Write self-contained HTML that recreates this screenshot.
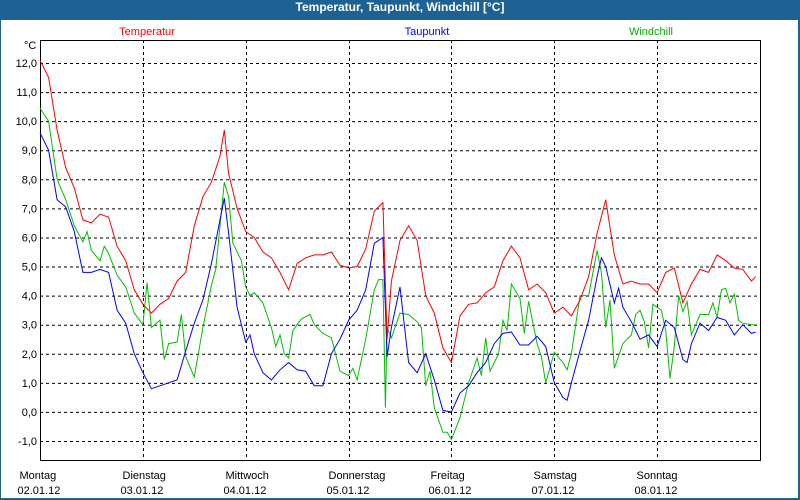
<!DOCTYPE html>
<html><head><meta charset="utf-8"><style>
body{margin:0;background:#fff;}
#wrap{position:relative;width:800px;height:500px;overflow:hidden;background:#1e6193;}
#inner{position:absolute;left:1px;top:20px;width:797px;height:478px;background:#fff;}
#title{position:absolute;left:0;top:0;width:800px;height:20px;line-height:20px;text-align:center;color:#fff;font:bold 12px "Liberation Sans",sans-serif;}
svg{position:absolute;left:0;top:0;}
text{font-family:"Liberation Sans",sans-serif;font-size:11px;}
</style></head><body>
<div id="wrap">
<div id="title">Temperatur, Taupunkt, Windchill [°C]</div>
<div id="inner"></div>
<svg id="chart" width="800" height="500"></svg>
</div>
<script>
const dayNames=["Montag","Dienstag","Mittwoch","Donnerstag","Freitag","Samstag","Sonntag"];
const dayDates=["02.01.12","03.01.12","04.01.12","05.01.12","06.01.12","07.01.12","08.01.12"];
const yTicks=[12,11,10,9,8,7,6,5,4,3,2,1,0,-1];
const tempHours=[0,2,4,6,8,10,12,14,16,18,20,22,24,26,28,30,32,34,36,38,40,42,43,44,46,48,50,52,54,56,58,60,62,64,66,68,70,72,74,76,78,80,81,82,84,86,88,90,92,94,96,98,100,102,104,106,108,110,112,114,116,118,120,122,124,126,128,130,132,134,136,138,140,142,144,146,148,150,152,154,156,158,160,162,164,166,167];
const tempValues=[12.1,11.5,9.7,8.4,7.7,6.6,6.5,6.8,6.7,5.7,5.2,4.2,3.7,3.4,3.7,3.9,4.5,4.8,6.4,7.4,7.9,8.8,9.7,8.2,7.0,6.2,6.0,5.5,5.3,4.8,4.2,5.1,5.3,5.4,5.4,5.5,5.05,4.95,5.0,5.6,6.9,7.2,2.5,4.5,5.9,6.4,5.9,4.0,3.4,2.2,1.7,3.3,3.7,3.75,4.1,4.3,5.2,5.7,5.3,4.2,4.4,4.1,3.4,3.6,3.3,3.85,4.65,6.15,7.3,5.4,4.4,4.5,4.4,4.4,4.1,4.8,4.95,3.75,4.4,4.9,4.8,5.4,5.2,4.95,4.9,4.5,4.65];
const dewHours=[0,2,4,6,8,10,12,14,16,18,20,22,24,26,28,30,32,34,36,38,40,42,43,44,46,48,49,50,52,54,56,58,60,62,64,66,68,70,72,74,76,78,80,81,82,84,86,88,90,92,94,96,98,100,102,104,106,108,110,112,114,116,118,120,122,123,124,126,128,130,131,132,134,135,136,138,140,142,144,146,148,150,151,152,154,156,158,160,162,164,166,167];
const dewValues=[9.6,9.0,7.3,7.05,6.2,4.8,4.8,4.9,4.8,3.5,3.05,2.0,1.35,0.8,0.9,1.0,1.1,2.1,3.05,3.85,5.1,6.6,7.35,6.15,3.6,2.4,2.65,2.0,1.35,1.1,1.45,1.7,1.45,1.4,0.9,0.9,2.0,2.5,3.15,3.5,4.2,5.8,6.0,1.9,2.9,4.3,1.7,1.35,2.0,1.1,0.05,0.0,0.65,0.9,1.35,1.7,2.35,2.7,2.75,2.3,2.3,2.6,2.25,1.0,0.5,0.4,1.0,2.1,3.15,4.65,5.3,5.0,3.75,4.25,3.6,3.1,2.5,2.65,2.25,3.15,2.9,1.8,1.7,2.35,3.05,2.8,3.25,3.15,2.65,3.0,2.7,2.75];
const chillHours=[0,2,4,6,8,10,11,12,14,15,16,18,20,22,24,25,26,28,29,30,32,33,34,36,38,40,41,42,43,44,45,47,48,49,50,52,54,55,56,57,58,59,61,63,64,66,68,70,72,73,74,76,78,79,80,80.6,81,82,84,86,88,89,90,91,92,94,95,96,98,100,102,103,104,105,107,108,109,110,112,113,114,116,117,118,120,122,123,124,126,128,130,131,132,133,134,136,138,139,140,141,142,143,145,146,147,148,149,150,151,152,154,156,157,158,159,160,161,162,163,164,166,167];
const chillValues=[10.45,10.0,8.0,7.3,6.4,5.85,6.2,5.55,5.2,5.7,5.45,4.7,4.3,3.4,3.0,4.45,2.9,3.15,1.8,2.35,2.4,3.35,1.9,1.2,2.9,4.35,4.9,6.4,7.9,7.4,5.8,5.2,4.3,4.0,4.1,3.75,2.9,2.25,2.65,2.0,1.85,2.8,3.2,3.35,3.0,2.7,2.55,1.4,1.25,1.5,1.1,2.5,4.2,4.55,4.55,0.15,2.9,2.55,3.4,3.35,3.1,2.9,0.9,1.4,0.15,-0.7,-0.7,-0.95,-0.2,1.0,1.85,1.25,2.55,1.4,2.0,3.15,2.8,4.4,3.9,2.7,3.8,2.35,1.9,1.0,2.05,1.7,1.45,2.0,4.0,4.0,5.55,4.8,2.9,3.85,1.5,2.35,2.65,3.35,3.5,3.1,2.2,3.7,3.5,2.8,1.15,2.25,4.0,3.45,3.8,2.65,3.35,3.35,3.75,3.25,4.2,4.25,3.75,4.05,3.15,3.05,3.0,3.0];

const L=40,R=760,T=40,B=460,HOURS=168;
const yTop=12,yBot=-1,pyTop=63,pyBot=441;
function xs(h){return L+h*(R-L)/HOURS;}
function ys(v){return pyTop+(yTop-v)*(pyBot-pyTop)/(yTop-yBot);}
const NS="http://www.w3.org/2000/svg";
const svg=document.getElementById('chart');
function mk(tag,attrs){const e=document.createElementNS(NS,tag);for(const k in attrs)e.setAttribute(k,attrs[k]);svg.appendChild(e);return e;}

yTicks.forEach(v=>{
  const g=mk('line',{x1:L,x2:R,y1:ys(v)+0.5,y2:ys(v)+0.5,stroke:'#000','stroke-dasharray':'3,3','stroke-width':1});
  
  
  const t=mk('text',{x:37,y:ys(v)+4,'text-anchor':'end',fill:'#000'});
  t.textContent=v.toFixed(1).replace('.',',');
  
  
});
dayNames.forEach((d,i)=>{
  const x=Math.round(xs(i*24))+0.5;
  if(i>0){
    const g=mk('line',{x1:x,x2:x,y1:T,y2:B,stroke:'#000','stroke-dasharray':'3,3','stroke-width':1});
    
    
  }
  const t1=mk('text',{x:x-21,y:479,fill:'#000'});
  t1.textContent=d;
  
  
  const t2=mk('text',{x:x-23,y:494,fill:'#000'});
  t2.textContent=dayDates[i];
  
  
});
const ax=mk('path',{d:`M${L+0.5},${T} V${B+0.5} H${R+0.5} V${T+0.5} H${L}`,fill:'none',stroke:'#000','stroke-width':1});


const unit=mk('text',{x:24,y:49,fill:'#000'});unit.textContent='°C';



function series(hours,vals,color,name){
  const d=hours.map((h,i)=>(i?'L':'M')+xs(h).toFixed(1)+','+ys(vals[i]).toFixed(1)).join(' ');
  const p=mk('path',{d:d,fill:'none',stroke:color,'stroke-width':1});
  
  
}
series(chillHours,chillValues,'#00c000','windchill-line');
series(dewHours,dewValues,'#0000ff','taupunkt-line');
series(tempHours,tempValues,'#ff0000','temperatur-line');

[['Temperatur','#ff0000',147],['Taupunkt','#0000ff',427],['Windchill','#00b000',651]].forEach(l=>{
  const t=mk('text',{x:l[2],y:35,'text-anchor':'middle',fill:l[1]});
  t.textContent=l[0];
  
  
});
</script>
</body></html>
